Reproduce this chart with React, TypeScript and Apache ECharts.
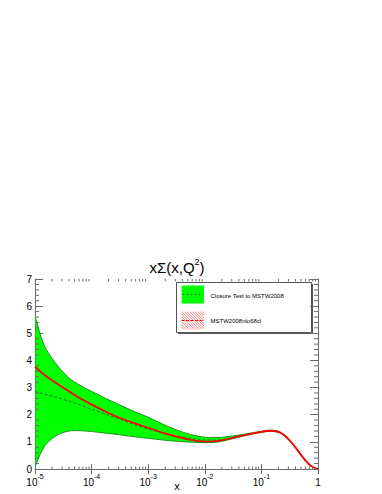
import React, { useEffect, useRef } from 'react';
import * as echarts from 'echarts';

// ---- data ----
const xGrid = [1e-5, 1.26e-5, 1.58e-5, 2.51e-5, 3.98e-5, 6.31e-5, 1e-4, 1.78e-4, 3.16e-4, 5.62e-4, 1e-3, 1.78e-3, 3.16e-3, 5.62e-3, 1e-2, 1.78e-2, 3.16e-2, 5.62e-2, 0.1, 0.141, 0.2, 0.251, 0.316, 0.398, 0.501, 0.631, 0.794, 1.0];
const mstwCentral = [3.76, 3.58, 3.42, 3.13, 2.86, 2.60, 2.38, 2.11, 1.88, 1.69, 1.52, 1.34, 1.19, 1.07, 1.01, 1.04, 1.15, 1.27, 1.37, 1.41, 1.37, 1.25, 1.05, 0.80, 0.52, 0.26, 0.08, 0.0];
const closureCentral = [2.86, 2.80, 2.74, 2.63, 2.50, 2.36, 2.20, 2.02, 1.84, 1.63, 1.47, 1.33, 1.22, 1.13, 1.07, 1.07, 1.16, 1.27, 1.37, 1.41, 1.37, 1.25, 1.05, 0.80, 0.52, 0.26, 0.08, 0.0];
const closureUpper = [5.55, 4.90, 4.40, 3.80, 3.35, 3.08, 2.86, 2.60, 2.36, 2.12, 1.91, 1.66, 1.44, 1.27, 1.17, 1.16, 1.22, 1.30, 1.39, 1.43, 1.39, 1.27, 1.07, 0.82, 0.54, 0.28, 0.09, 0.0];
const closureLower = [0.15, 0.58, 0.92, 1.26, 1.40, 1.41, 1.38, 1.32, 1.26, 1.19, 1.13, 1.07, 1.02, 0.99, 0.97, 1.00, 1.12, 1.25, 1.35, 1.39, 1.35, 1.23, 1.03, 0.78, 0.50, 0.24, 0.07, 0.0];

// axis structure
const X_MIN = 1e-5;
const X_MAX = 1;
const Y_MIN = 0;
const Y_MAX = 7;
const xDecades = [1e-5, 1e-4, 1e-3, 1e-2, 1e-1];
const xMinorMultipliers = [2, 3, 4, 5, 6, 7, 8, 9];
const yMajor = [0, 1, 2, 3, 4, 5, 6];
const yMinorSteps = [0.2, 0.4, 0.6, 0.8];

const legendLabels = ['Closure Test to MSTW2008', 'MSTW2008nlo68cl'];
const titleText = { main: 'xΣ(x,Q', sup: '2', end: ')' };

const FONT = 'Liberation Sans, Arial, Helvetica, sans-serif';
const AXIS = '#6a6a6a';

function hatchLines(x0: number, y0: number, w: number, h: number, step: number) {
  const out: any[] = [];
  for (let c = -h; c < w; c += step) {
    const t0 = Math.max(0, -c);
    const t1 = Math.min(h, w - c);
    if (t1 <= t0) continue;
    out.push({
      type: 'line',
      shape: { x1: x0 + c + t0, y1: y0 + t0, x2: x0 + c + t1, y2: y0 + t1 },
      style: { stroke: '#ff7070', lineWidth: 0.8 },
      silent: true,
    });
  }
  return out;
}

export default function App() {
  const ref = useRef<HTMLDivElement>(null);
  useEffect(() => {
    if (!ref.current) return;
    const chart = echarts.init(ref.current, undefined, { renderer: 'svg' });

    const xMinor: number[] = [];
    xDecades.forEach((d) => xMinorMultipliers.forEach((m) => xMinor.push(m * d)));
    const yMinor: number[] = [];
    yMajor.forEach((v) => yMinorSteps.forEach((s) => yMinor.push(v + s)));

    const pts = (arr: number[]) => xGrid.map((x, i) => [x, arr[i]]);
    const bandData = xGrid.map((x, i) => [x, closureLower[i], closureUpper[i]]);

    const labelRich = {
      b: { fontSize: 10, fontFamily: FONT, color: '#000', lineHeight: 14, verticalAlign: 'bottom' as const },
      s: { fontSize: 7, fontFamily: FONT, color: '#000', lineHeight: 14, verticalAlign: 'top' as const },
    };

    const lx = 176.5, ly = 282.5, lw = 135, lh = 50;
    const boxX = 181.5, boxW = 22.5, boxH = 18;
    const b1y = 285.5, b2y = 311.5;

    const axisBase = {
      axisLine: { show: true, lineStyle: { color: AXIS, width: 1 } },
      splitLine: { show: false },
    };

    const option: any = {
      animation: false,
      backgroundColor: '#fff',
      grid: { left: 35, right: 64, top: 279, bottom: 25, containLabel: false },
      xAxis: [
        {
          ...axisBase,
          type: 'log', logBase: 10, min: X_MIN, max: X_MAX, position: 'bottom',
          axisTick: { show: true, inside: true, length: 5, lineStyle: { color: AXIS } },
          axisLabel: {
            margin: 4,
            formatter: (v: number) => {
              const e = Math.round(Math.log10(v));
              return e === 0 ? '{b|1}' : `{b|10}{s|${e}}`;
            },
            rich: labelRich,
          },
        },
        {
          ...axisBase,
          type: 'log', logBase: 10, min: X_MIN, max: X_MAX, position: 'top',
          axisTick: { show: true, inside: true, length: 5, lineStyle: { color: AXIS } },
          axisLabel: { show: false },
        },
      ],
      yAxis: [
        {
          ...axisBase,
          type: 'value', min: Y_MIN, max: Y_MAX, interval: 1, position: 'left',
          axisTick: { show: true, inside: true, length: 8, lineStyle: { color: AXIS } },
          axisLabel: { margin: 3, fontSize: 10, fontFamily: FONT, color: '#000' },
        },
        {
          ...axisBase,
          type: 'value', min: Y_MIN, max: Y_MAX, interval: 1, position: 'right',
          axisTick: { show: true, inside: true, length: 8, lineStyle: { color: AXIS } },
          axisLabel: { show: false },
        },
      ],
      series: [
        {
          type: 'custom', name: 'band', data: bandData, silent: true, clip: true, z: 1,
          renderItem: (params: any, api: any) => {
            if (params.dataIndex !== 0) return null;
            const up = bandData.map((d) => api.coord([d[0], d[2]]));
            const lo = bandData.map((d) => api.coord([d[0], d[1]])).reverse().slice(1);
            const cs = params.coordSys;
            return {
              type: 'polygon',
              shape: {
                points: up.concat(lo),
                smooth: 0.3,
                smoothConstraint: [[cs.x, cs.y], [cs.x + cs.width, cs.y + cs.height]],
              },
              style: { fill: '#00ff00', stroke: '#149a14', lineWidth: 1 },
            };
          },
        },
        {
          type: 'line', name: 'closure', data: pts(closureCentral), symbol: 'none', smooth: 0.3,
          lineStyle: { color: '#2a6e2a', width: 1, type: [3, 2] }, silent: true, z: 3,
        },
        {
          type: 'line', name: 'mstw', data: pts(mstwCentral), symbol: 'none', smooth: 0.3,
          lineStyle: { color: '#ff0000', width: 1.8 }, silent: true, z: 4,
        },
        {
          type: 'custom', name: 'xMinorTicks', data: xMinor.map((v) => [v, Y_MIN]), silent: true, clip: false, z: 5,
          renderItem: (params: any, api: any) => {
            const x = api.value(0);
            const b = api.coord([x, Y_MIN]);
            const t = api.coord([x, Y_MAX]);
            return {
              type: 'group',
              children: [
                { type: 'line', shape: { x1: b[0], y1: b[1], x2: b[0], y2: b[1] - 2.5 }, style: { stroke: AXIS, lineWidth: 1 } },
                { type: 'line', shape: { x1: t[0], y1: t[1], x2: t[0], y2: t[1] + 2.5 }, style: { stroke: AXIS, lineWidth: 1 } },
              ],
            };
          },
        },
        {
          type: 'custom', name: 'yMinorTicks', data: yMinor.map((v) => [X_MIN, v]), silent: true, clip: false, z: 5,
          renderItem: (params: any, api: any) => {
            const y = api.value(1);
            const l = api.coord([X_MIN, y]);
            const r = api.coord([X_MAX, y]);
            return {
              type: 'group',
              children: [
                { type: 'line', shape: { x1: l[0], y1: l[1], x2: l[0] + 4, y2: l[1] }, style: { stroke: AXIS, lineWidth: 1 } },
                { type: 'line', shape: { x1: r[0], y1: r[1], x2: r[0] - 4, y2: r[1] }, style: { stroke: AXIS, lineWidth: 1 } },
              ],
            };
          },
        },
      ],
      graphic: [
        {
          type: 'text', x: 177, y: 266, silent: true,
          style: {
            text: `{a|${titleText.main}}{s|${titleText.sup}}{a|${titleText.end}}`,
            align: 'center', verticalAlign: 'middle',
            rich: {
              a: { fontSize: 15, fontFamily: FONT, fill: '#000', lineHeight: 18, verticalAlign: 'bottom' },
              s: { fontSize: 9, fontFamily: FONT, fill: '#000', lineHeight: 18, verticalAlign: 'top' },
            },
          },
        },
        {
          type: 'text', x: 177, y: 486, silent: true,
          style: { text: 'x', fontSize: 11, fontFamily: FONT, fill: '#000', align: 'center', verticalAlign: 'middle' },
        },
        // legend shadow + box
        { type: 'line', silent: true, shape: { x1: lx + lw + 1, y1: ly + 1.5, x2: lx + lw + 1, y2: ly + lh + 1 }, style: { stroke: '#555', lineWidth: 1 } },
        { type: 'line', silent: true, shape: { x1: lx + 1.5, y1: ly + lh + 1, x2: lx + lw + 1, y2: ly + lh + 1 }, style: { stroke: '#555', lineWidth: 1 } },
        { type: 'rect', silent: true, shape: { x: lx, y: ly, width: lw, height: lh }, style: { fill: '#fff', stroke: '#555', lineWidth: 1 } },
        // entry 1
        { type: 'rect', silent: true, shape: { x: boxX, y: b1y, width: boxW, height: boxH }, style: { fill: '#00ff00', lineWidth: 0 } },
        { type: 'line', silent: true, shape: { x1: boxX + 1, y1: b1y + boxH / 2, x2: boxX + boxW - 1, y2: b1y + boxH / 2 }, style: { stroke: '#2a6e2a', lineWidth: 1, lineDash: [2, 2] } },
        {
          type: 'text', x: 210.5, y: 296, silent: true,
          style: { text: legendLabels[0], fontSize: 6, fontFamily: FONT, fill: '#000', align: 'left', verticalAlign: 'middle' },
        },
        // entry 2
        ...hatchLines(boxX, b2y, boxW, boxH, 2.6),
        { type: 'line', silent: true, shape: { x1: boxX, y1: b2y + boxH / 2, x2: boxX + boxW, y2: b2y + boxH / 2 }, style: { stroke: '#ff0000', lineWidth: 1, lineDash: [3, 1.5] } },
        {
          type: 'text', x: 210.5, y: 320.7, silent: true,
          style: { text: legendLabels[1], fontSize: 6, fontFamily: FONT, fill: '#000', align: 'left', verticalAlign: 'middle' },
        },
      ],
    };

    chart.setOption(option);
    return () => chart.dispose();
  }, []);

  return (
    <div
      ref={ref}
      style={{ position: 'absolute', left: 0, top: 0, width: 382, height: 494, background: '#fff' }}
    />
  );
}
